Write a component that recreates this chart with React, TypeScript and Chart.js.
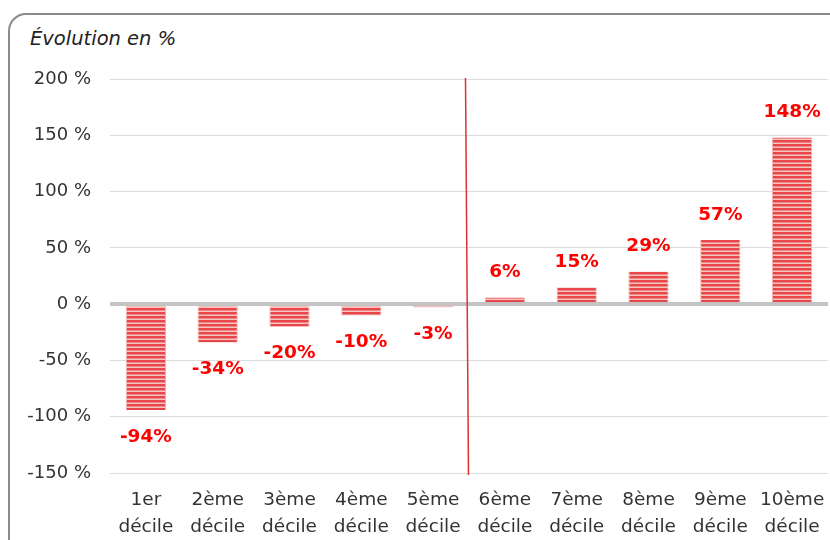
import React, { useEffect, useRef } from "react";
import { Chart, registerables } from "chart.js";
Chart.register(...registerables);

const categories: string[][] = [
  ["1er", "décile"], ["2ème", "décile"], ["3ème", "décile"], ["4ème", "décile"], ["5ème", "décile"],
  ["6ème", "décile"], ["7ème", "décile"], ["8ème", "décile"], ["9ème", "décile"], ["10ème", "décile"],
];
const values: number[] = [-94, -34, -20, -10, -3, 6, 15, 29, 57, 148];
const valueLabels: string[] = ["-94%", "-34%", "-20%", "-10%", "-3%", "6%", "15%", "29%", "57%", "148%"];
const yMin = -150;
const yMax = 200;
const yStep = 50;
const title = "Évolution en %";
const FONT = "'DejaVu Sans', 'Noto Sans', sans-serif";

function makePattern(): CanvasPattern | string {
  const c = document.createElement("canvas");
  c.width = 4;
  c.height = 4;
  const g = c.getContext("2d");
  if (!g) return "#e83a3a";
  g.fillStyle = "#e8474a";
  g.fillRect(0, 0, 4, 2);
  g.fillStyle = "#f08585";
  g.fillRect(0, 2, 4, 1);
  g.fillStyle = "#f8c6c2";
  g.fillRect(0, 3, 4, 1);
  return g.createPattern(c, "repeat") || "#e83a3a";
}

const labelPlugin = {
  id: "valueLabels",
  afterDatasetsDraw(chart: any) {
    const ctx = chart.ctx;
    const meta = chart.getDatasetMeta(0);
    ctx.save();
    ctx.font = `bold 18.5px ${FONT}`;
    ctx.fillStyle = "#ff0000";
    ctx.textAlign = "center";
    ctx.textBaseline = "middle";
    meta.data.forEach((bar: any, i: number) => {
      const v = values[i];
      const y = v >= 0 ? bar.y - 25 : bar.y + 27;
      ctx.fillText(valueLabels[i], bar.x, y);
    });
    ctx.restore();
  },
};

const dividerPlugin = {
  id: "divider",
  afterDatasetsDraw(chart: any) {
    const ctx = chart.ctx;
    const xs = chart.scales.x;
    const area = chart.chartArea;
    const mid = (xs.getPixelForValue(4) + xs.getPixelForValue(5)) / 2;
    ctx.save();
    ctx.strokeStyle = "#e03030";
    ctx.lineWidth = 1.5;
    ctx.beginPath();
    ctx.moveTo(mid - 3.5, area.top - 1);
    ctx.lineTo(mid - 0.5, area.bottom + 2);
    ctx.stroke();
    ctx.restore();
  },
};

export default function App() {
  const ref = useRef<HTMLCanvasElement | null>(null);
  useEffect(() => {
    if (!ref.current) return;
    const pattern = makePattern();
    const chart = new Chart(ref.current, {
      type: "bar",
      data: {
        labels: categories,
        datasets: [
          {
            data: values,
            backgroundColor: pattern as any,
            borderColor: "#f4b0ac",
            borderWidth: { left: 1, right: 1, top: 0, bottom: 0 } as any,
            borderSkipped: false,
            barPercentage: 0.56,
            categoryPercentage: 1,
          },
        ],
      },
      options: {
        responsive: false,
        animation: false,
        layout: { padding: { top: 79, right: 2, bottom: 0, left: 0 } },
        plugins: { legend: { display: false }, tooltip: { enabled: false }, title: { display: false } },
        scales: {
          x: {
            grid: { display: false, drawTicks: false },
            border: { display: false },
            ticks: {
              color: "#333333",
              font: { family: FONT, size: 18.5, lineHeight: 1.45 },
              padding: 14,
              maxRotation: 0,
              autoSkip: false,
            },
            afterFit(scale: any) {
              scale.height = 67;
              scale.paddingLeft = 0;
              scale.paddingRight = 0;
            },
          },
          y: {
            min: yMin,
            max: yMax,
            grid: {
              drawTicks: false,
              color: (c: any) => (c.tick && c.tick.value === 0 ? "#c4c4c4" : "#dcdcdc"),
              lineWidth: (c: any) => (c.tick && c.tick.value === 0 ? 4 : 1),
            },
            border: { display: false },
            ticks: {
              stepSize: yStep,
              color: "#333333",
              font: { family: FONT, size: 18 },
              padding: 19,
              callback: (v: any) => `${v} %`,
            },
            afterFit(scale: any) {
              scale.width = 110;
              scale.paddingTop = 0;
              scale.paddingBottom = 0;
            },
          },
        },
      },
      plugins: [labelPlugin, dividerPlugin],
    });
    return () => chart.destroy();
  }, []);

  return (
    <div style={{ position: "fixed", left: 0, top: 0, width: 830, height: 540, overflow: "hidden", background: "#fff" }}>
      <div
        style={{
          position: "absolute",
          left: 8,
          top: 13,
          width: 860,
          height: 580,
          border: "2px solid #8a8a8a",
          borderRadius: 18,
          boxSizing: "border-box",
        }}
      />
      <div
        style={{
          position: "absolute",
          left: 30,
          top: 26,
          fontFamily: FONT,
          fontStyle: "italic",
          fontSize: 19.5,
          color: "#222",
          lineHeight: "26px",
        }}
      >
        {title}
      </div>
      <canvas ref={ref} width={830} height={540} style={{ position: "absolute", left: 0, top: 0 }} />
    </div>
  );
}
